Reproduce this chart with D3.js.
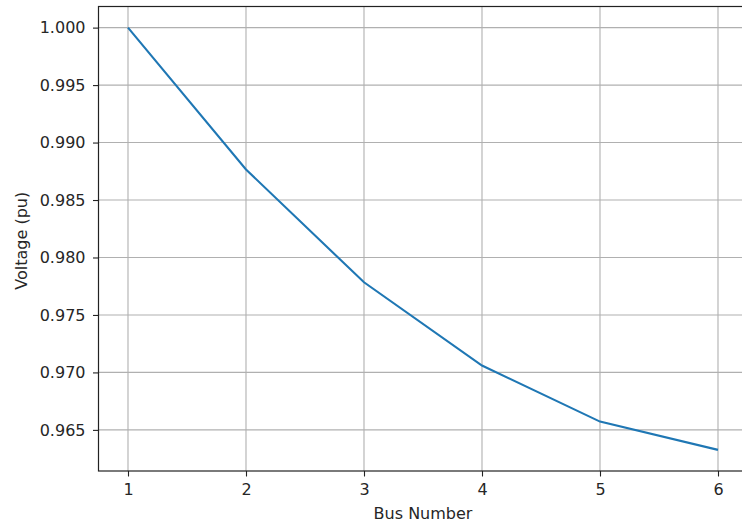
<!DOCTYPE html>
<html><head><meta charset="utf-8">
<script src="https://cdn.jsdelivr.net/npm/d3@7"></script>
<style>body{margin:0;background:#fff;} svg{display:block;}</style>
</head><body>
<svg id="c" width="742" height="526"></svg>
<script>
const buses = [1, 2, 3, 4, 5, 6];
const voltages = [1.0000, 0.98766, 0.97784, 0.97060, 0.96572, 0.96326];
const yTicks = [0.965, 0.970, 0.975, 0.980, 0.985, 0.990, 0.995, 1.000];
const xTicks = [1, 2, 3, 4, 5, 6];
const xLabel = "Bus Number";
const yLabel = "Voltage (pu)";

const svg = d3.select("#c");
const L = 98.5, R = 747.5, T = 6.5, B = 471;
const xr = d3.max(buses) - d3.min(buses);
const x = d3.scaleLinear().domain([d3.min(buses) - 0.05 * xr, d3.max(buses) + 0.05 * xr]).range([L, R]);
const yMin = d3.min(voltages), yMax = d3.max(voltages), yr = yMax - yMin;
const y = d3.scaleLinear().domain([yMin - 0.05 * yr, yMax + 0.05 * yr]).range([B, T]);

const font = "DejaVu Sans, sans-serif";
const fs = "16px";
// grid
svg.append("g").selectAll("line").data(xTicks).join("line")
  .attr("x1", d => x(d)).attr("x2", d => x(d)).attr("y1", T).attr("y2", B)
  .attr("stroke", "#b0b0b0").attr("stroke-width", 1.1);
svg.append("g").selectAll("line").data(yTicks).join("line")
  .attr("x1", L).attr("x2", R).attr("y1", d => y(d)).attr("y2", d => y(d))
  .attr("stroke", "#b0b0b0").attr("stroke-width", 1.1);

// line
svg.append("path").datum(buses.map((b, i) => [b, voltages[i]]))
  .attr("d", d3.line().x(d => x(d[0])).y(d => y(d[1])))
  .attr("fill", "none").attr("stroke", "#1f77b4").attr("stroke-width", 2.1);

// axes
const xAxis = d3.axisBottom(x).tickValues(xTicks).tickFormat(d3.format("d")).tickSize(5.5).tickPadding(7.5);
const yAxis = d3.axisLeft(y).tickValues(yTicks).tickFormat(d3.format(".3f")).tickSize(5.5).tickPadding(7.5);
const gx = svg.append("g").attr("transform", `translate(0,${B})`).call(xAxis);
const gy = svg.append("g").attr("transform", `translate(${L},0)`).call(yAxis);
[gx, gy].forEach(g => {
  g.select(".domain").remove();
  g.selectAll(".tick line").attr("stroke", "#222").attr("stroke-width", 1.1);
  g.selectAll(".tick text").attr("fill", "#262626").style("font-family", font).style("font-size", fs);
});
// spines
svg.append("rect").attr("x", L).attr("y", T).attr("width", R - L).attr("height", B - T)
  .attr("fill", "none").attr("stroke", "#222").attr("stroke-width", 1.2);

svg.append("text").attr("x", (L + R) / 2).attr("y", 519).attr("text-anchor", "middle")
  .style("font-family", font).style("font-size", fs).attr("fill", "#262626").text(xLabel);
svg.append("text").attr("transform", `translate(27,${(T + B) / 2 + 2}) rotate(-90)`).attr("text-anchor", "middle")
  .style("font-family", font).style("font-size", fs).attr("fill", "#262626").text(yLabel);
</script>
</body></html>
